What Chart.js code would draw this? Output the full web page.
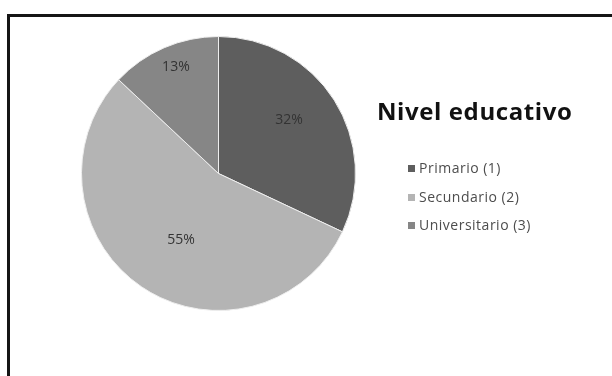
<!DOCTYPE html>
<html lang="es">
<head>
  <meta charset="UTF-8">
  <title>Nivel educativo</title>
  <script src="https://cdn.jsdelivr.net/npm/chart.js"></script>
  <style>
    html, body { margin: 0; padding: 0; background: #fff; overflow: hidden; }
    body { width: 612px; height: 376px; position: relative; font-family: "Open Sans", sans-serif; }
    #frame { position: absolute; left: 7px; top: 14px; width: 620px; height: 380px; border: 3px solid #151515; box-sizing: border-box; }
    #pie { position: absolute; left: 0; top: 0; }
    #title { position: absolute; left: 377px; top: 94px; font: bold 24px "Open Sans", sans-serif; letter-spacing: 0.6px; color: #111; white-space: nowrap; }
    #legend { position: absolute; left: 408px; top: 159px; margin: 0; padding: 0; list-style: none; font-size: 14px; letter-spacing: 0.5px; color: #4d4d4d; }
    #legend li { height: 28.5px; line-height: 18px; white-space: nowrap; }
    #legend span { display: inline-block; width: 7px; height: 7px; margin-right: 4px; vertical-align: 1px; }
  </style>
</head>
<body>
  <div id="frame"></div>
  <canvas id="pie" width="612" height="376"></canvas>
  <div id="title">Nivel educativo</div>
  <ul id="legend"></ul>

  <script>
    const categories = ['Primario (1)', 'Secundario (2)', 'Universitario (3)'];
    const percents = [32, 55, 13];
    const sliceColors = ['#5e5e5e', '#b4b4b4', '#868686'];
    // % label placement: share of the radius, and a small turn (degrees) off the slice middle
    const labelRadius = [0.646, 0.557, 0.837];
    const labelTurn = [-4.8, -4.8, 1.6];

    const legend = document.getElementById('legend');
    categories.forEach((name, i) => {
      const li = document.createElement('li');
      li.innerHTML = `<span style="background:${sliceColors[i]}"></span>${name}`;
      legend.appendChild(li);
    });

    const pctLabels = {
      id: 'pctLabels',
      afterDatasetsDraw(chart) {
        const ctx = chart.ctx;
        const arcs = chart.getDatasetMeta(0).data;
        ctx.save();
        ctx.font = '14px "Open Sans", sans-serif';
        ctx.fillStyle = '#333';
        ctx.textAlign = 'center';
        ctx.textBaseline = 'middle';
        arcs.forEach((arc, i) => {
          const mid = (arc.startAngle + arc.endAngle) / 2 + labelTurn[i] * Math.PI / 180;
          const r = arc.outerRadius * labelRadius[i];
          ctx.fillText(percents[i] + '%', arc.x + Math.cos(mid) * r, arc.y + Math.sin(mid) * r);
        });
        ctx.restore();
      }
    };

    new Chart(document.getElementById('pie'), {
      type: 'pie',
      data: {
        labels: categories,
        datasets: [{
          data: percents,
          backgroundColor: sliceColors,
          borderColor: '#eeeeee',
          borderWidth: 1
        }]
      },
      options: {
        responsive: false,
        animation: false,
        layout: { padding: { left: 81, top: 36, right: 256, bottom: 65 } },
        plugins: { legend: { display: false }, tooltip: { enabled: false } }
      },
      plugins: [pctLabels]
    });
  </script>
</body>
</html>
